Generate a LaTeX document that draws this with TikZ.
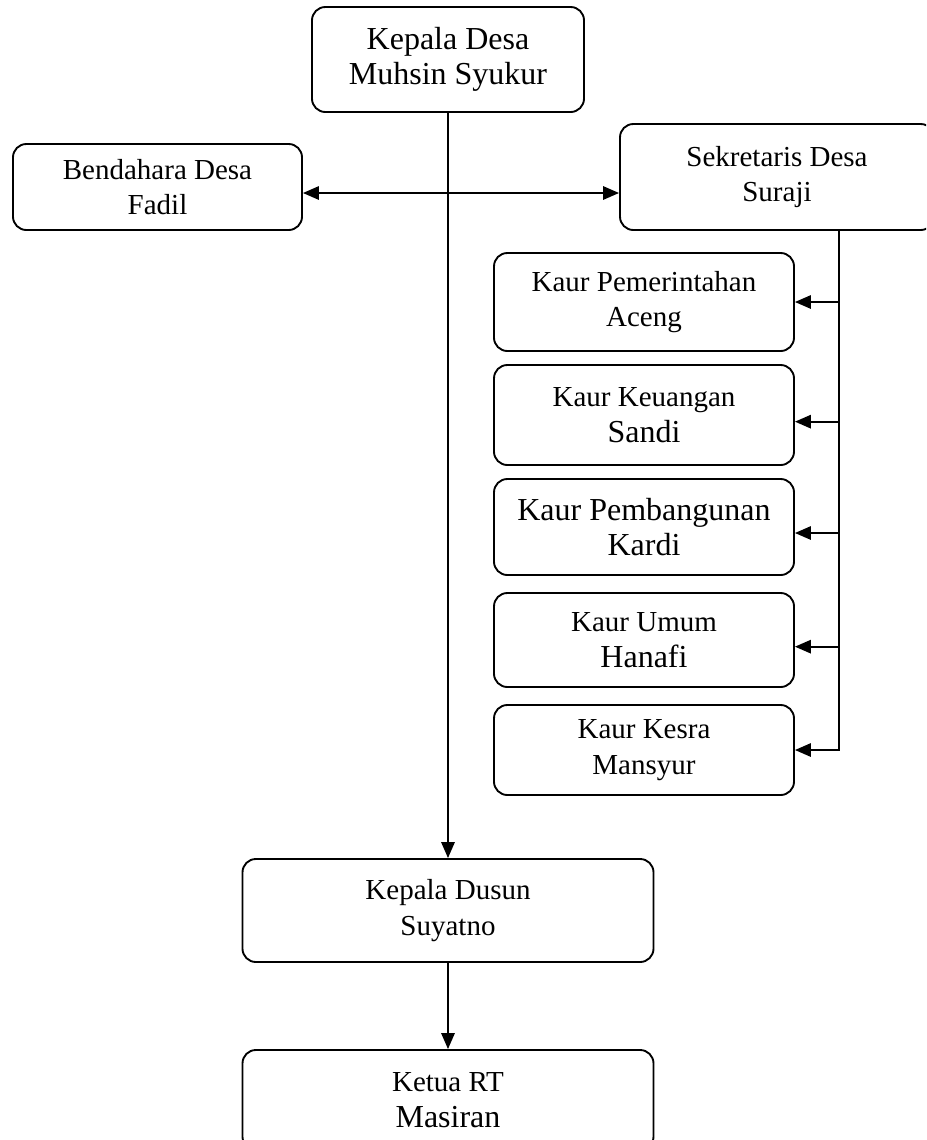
\documentclass[tikz,border=0pt]{standalone}
\usepackage{fontspec}
\setmainfont{Liberation Serif}
\usetikzlibrary{arrows.meta}
\newcommand{\fsm}{\fontsize{21.75}{26.6}\selectfont}
\newcommand{\fbg}{\fontsize{24}{26.6}\selectfont}
\begin{document}
\begin{tikzpicture}[x=0.75pt,y=-0.75pt,
  box/.style={draw, line width=1.4pt, rounded corners=10pt, align=center, font=\fsm, inner sep=0pt},
  conn/.style={line width=1.5pt},
  tip/.tip={Triangle[length=12pt,width=10pt]},
  arr/.style={conn, -tip}]
\clip (0,0) rectangle (926,1140);
% nodes
\node[box, minimum width=204pt, minimum height=78.75pt, font=\fbg] (kd) at (448,59.5) {Kepala Desa\\Muhsin Syukur};
\node[box, minimum width=216.75pt, minimum height=64.5pt] (bend) at (157.5,187) {Bendahara Desa\\Fadil};
\node[box, minimum width=235.5pt, minimum height=79.5pt] (sek) at (777,177) {Sekretaris Desa\\Suraji};
\node[box, minimum width=225pt, minimum height=73.5pt] (pem) at (644,302) {Kaur Pemerintahan\\Aceng};
\node[box, minimum width=225pt, minimum height=75pt] (keu) at (644,415) {Kaur Keuangan\\{\fbg Sandi}};
\node[box, minimum width=225pt, minimum height=72pt, font=\fbg] (pbg) at (644,527) {Kaur Pembangunan\\Kardi};
\node[box, minimum width=225pt, minimum height=70.5pt] (umum) at (644,640) {Kaur Umum\\{\fbg Hanafi}};
\node[box, minimum width=225pt, minimum height=67.5pt] (kesra) at (644,750) {Kaur Kesra\\Mansyur};
\node[box, minimum width=308.25pt, minimum height=77.25pt] (dusun) at (448,910.5) {Kepala Dusun\\Suyatno};
\node[box, minimum width=308.25pt, minimum height=75pt] (rt) at (448,1100) {Ketua RT\\{\fbg Masiran}};
% connectors
\coordinate (hj) at (448,193);
\coordinate (sp) at (839,230);
\draw[arr] (kd.south) -- (dusun.north);
\draw[conn, tip-tip] (bend.east |- hj) -- (sek.west |- hj);
\draw[arr] (sek.south -| sp) -- (kesra.east -| sp) -- (kesra.east);
\draw[arr] (pem.east -| sp) -- (pem.east);
\draw[arr] ([yshift=-5pt]keu.east -| sp) -- ([yshift=-5pt]keu.east);
\draw[arr] ([yshift=-4.5pt]pbg.east -| sp) -- ([yshift=-4.5pt]pbg.east);
\draw[arr] ([yshift=-5pt]umum.east -| sp) -- ([yshift=-5pt]umum.east);
\draw[arr] (dusun.south) -- (rt.north);
\end{tikzpicture}
\end{document}
